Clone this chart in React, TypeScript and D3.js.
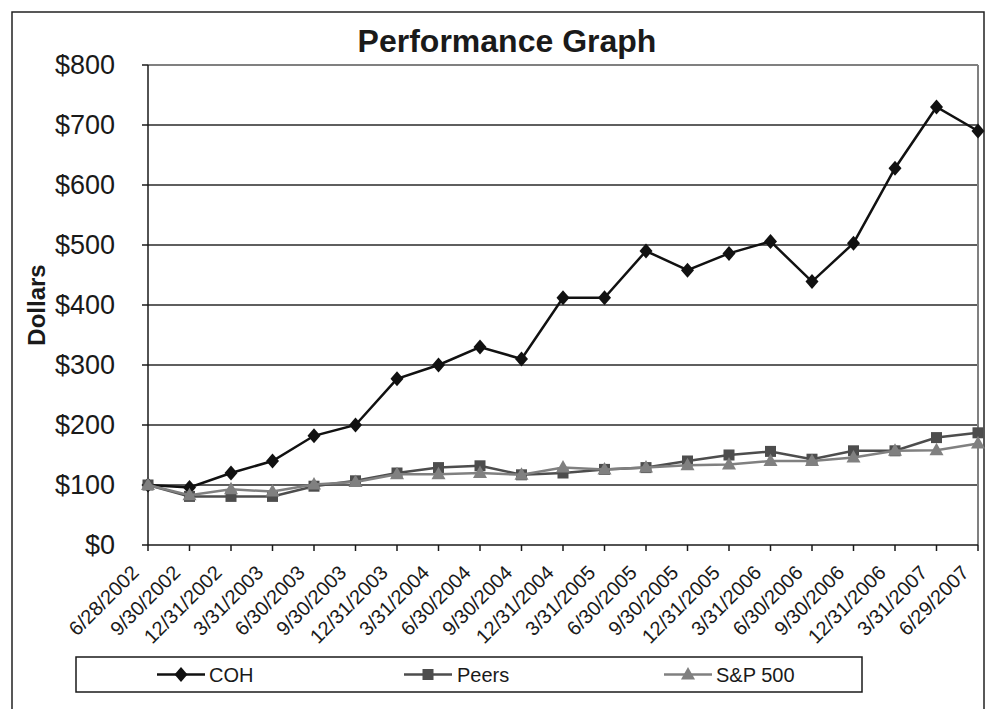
import React from "react";
import * as d3 from "d3";

const categories = [
  "6/28/2002", "9/30/2002", "12/31/2002", "3/31/2003", "6/30/2003", "9/30/2003",
  "12/31/2003", "3/31/2004", "6/30/2004", "9/30/2004", "12/31/2004", "3/31/2005",
  "6/30/2005", "9/30/2005", "12/31/2005", "3/31/2006", "6/30/2006", "9/30/2006",
  "12/31/2006", "3/31/2007", "6/29/2007",
];

const cohValues = [100, 96, 120, 140, 182, 200, 277, 300, 330, 310, 412, 412, 490, 458, 486, 506, 439, 503, 628, 730, 690];
const peersValues = [100, 81, 81, 81, 98, 107, 120, 129, 132, 117, 120, 126, 129, 140, 150, 156, 143, 157, 157, 179, 187];
const spValues = [100, 83, 93, 89, 101, 105, 118, 118, 120, 117, 129, 126, 129, 133, 134, 140, 140, 146, 157, 158, 169];

const yTicks = [0, 100, 200, 300, 400, 500, 600, 700, 800];
const seriesNames = ["COH", "Peers", "S&P 500"];

const W = 989;
const H = 709;
const left = 148;
const right = 978;
const top = 65;
const bottom = 545;
const FONT = "'Liberation Sans', Arial, Helvetica, sans-serif";

const colors = ["#111111", "#4d4d4d", "#808080"];

function Marker({ kind, x, y, color }: { kind: number; x: number; y: number; color: string }) {
  if (kind === 0) {
    const d = `M${x},${y - 7.5}L${x + 6.5},${y}L${x},${y + 7.5}L${x - 6.5},${y}Z`;
    return <path d={d} fill={color} />;
  }
  if (kind === 1) {
    return <rect x={x - 5.5} y={y - 5.5} width={11} height={11} fill={color} />;
  }
  const d = `M${x},${y - 7.5}L${x + 7},${y + 5}L${x - 7},${y + 5}Z`;
  return <path d={d} fill={color} />;
}

export default function App() {
  const x = d3.scalePoint<string>().domain(categories).range([left, right]);
  const y = d3.scaleLinear().domain([0, 800]).range([bottom, top]);
  const line = d3
    .line<number>()
    .x((_, i) => x(categories[i]) as number)
    .y((d) => y(d));

  const series = [cohValues, peersValues, spValues];

  const legendItems = [
    { lx: 157, tx: 209 },
    { lx: 404, tx: 457 },
    { lx: 664, tx: 716 },
  ];
  const legendY = 674.5;

  return (
    <svg
      width={W}
      height={H}
      style={{ position: "absolute", left: 0, top: 0, background: "#fff" }}
      fontFamily={FONT}
    >
      <rect x={0} y={0} width={W} height={H} fill="#fff" />
      <rect x={12} y={12} width={972} height={720} fill="none" stroke="#222" strokeWidth={1.5} />

      <text x={507} y={52} textAnchor="middle" fontSize={32} fontWeight="bold" fill="#1a1a1a">
        Performance Graph
      </text>

      {/* gridlines */}
      {yTicks.slice(1, -1).map((t) => (
        <line key={t} x1={left} x2={right} y1={y(t)} y2={y(t)} stroke="#2a2a2a" strokeWidth={1.3} />
      ))}
      {/* plot frame top/right */}
      <line x1={left} x2={right} y1={top} y2={top} stroke="#808080" strokeWidth={2} />
      <line x1={right} x2={right} y1={top} y2={bottom} stroke="#808080" strokeWidth={2} />

      {/* y axis */}
      <line x1={left} x2={left} y1={top} y2={bottom} stroke="#1a1a1a" strokeWidth={1.5} />
      {yTicks.map((t) => (
        <g key={t}>
          <line x1={left - 6} x2={left} y1={y(t)} y2={y(t)} stroke="#1a1a1a" strokeWidth={1.5} />
          <text x={115} y={y(t)} dy="0.35em" textAnchor="end" fontSize={27} fill="#1a1a1a">
            {`$${t}`}
          </text>
        </g>
      ))}
      <text
        transform={`translate(45,${(top + bottom) / 2}) rotate(-90)`}
        textAnchor="middle"
        fontSize={24}
        fontWeight="bold"
        fill="#1a1a1a"
      >
        Dollars
      </text>

      {/* x axis */}
      <line x1={left} x2={right} y1={bottom} y2={bottom} stroke="#1a1a1a" strokeWidth={1.5} />
      {categories.map((c) => {
        const cx = x(c) as number;
        return (
          <g key={c}>
            <line x1={cx} x2={cx} y1={bottom} y2={bottom + 6} stroke="#1a1a1a" strokeWidth={1.5} />
            <text
              transform={`translate(${cx - 8},${bottom + 29}) rotate(-45)`}
              textAnchor="end"
              fontSize={20}
              fill="#1a1a1a"
            >
              {c}
            </text>
          </g>
        );
      })}

      {/* series */}
      {series.map((vals, si) => (
        <g key={si}>
          <path d={line(vals) as string} fill="none" stroke={colors[si]} strokeWidth={2.5} />
          {vals.map((v, i) => (
            <Marker key={i} kind={si} x={x(categories[i]) as number} y={y(v)} color={colors[si]} />
          ))}
        </g>
      ))}

      {/* legend */}
      <rect x={76} y={657} width={786} height={35} fill="#fff" stroke="#1a1a1a" strokeWidth={1.5} />
      {legendItems.map((it, si) => (
        <g key={si}>
          <line x1={it.lx} x2={it.lx + 48} y1={legendY} y2={legendY} stroke={colors[si]} strokeWidth={2.5} />
          <Marker kind={si} x={it.lx + 24} y={legendY} color={colors[si]} />
          <text x={it.tx} y={legendY} dy="0.35em" fontSize={20} fill="#1a1a1a">
            {seriesNames[si]}
          </text>
        </g>
      ))}
    </svg>
  );
}
